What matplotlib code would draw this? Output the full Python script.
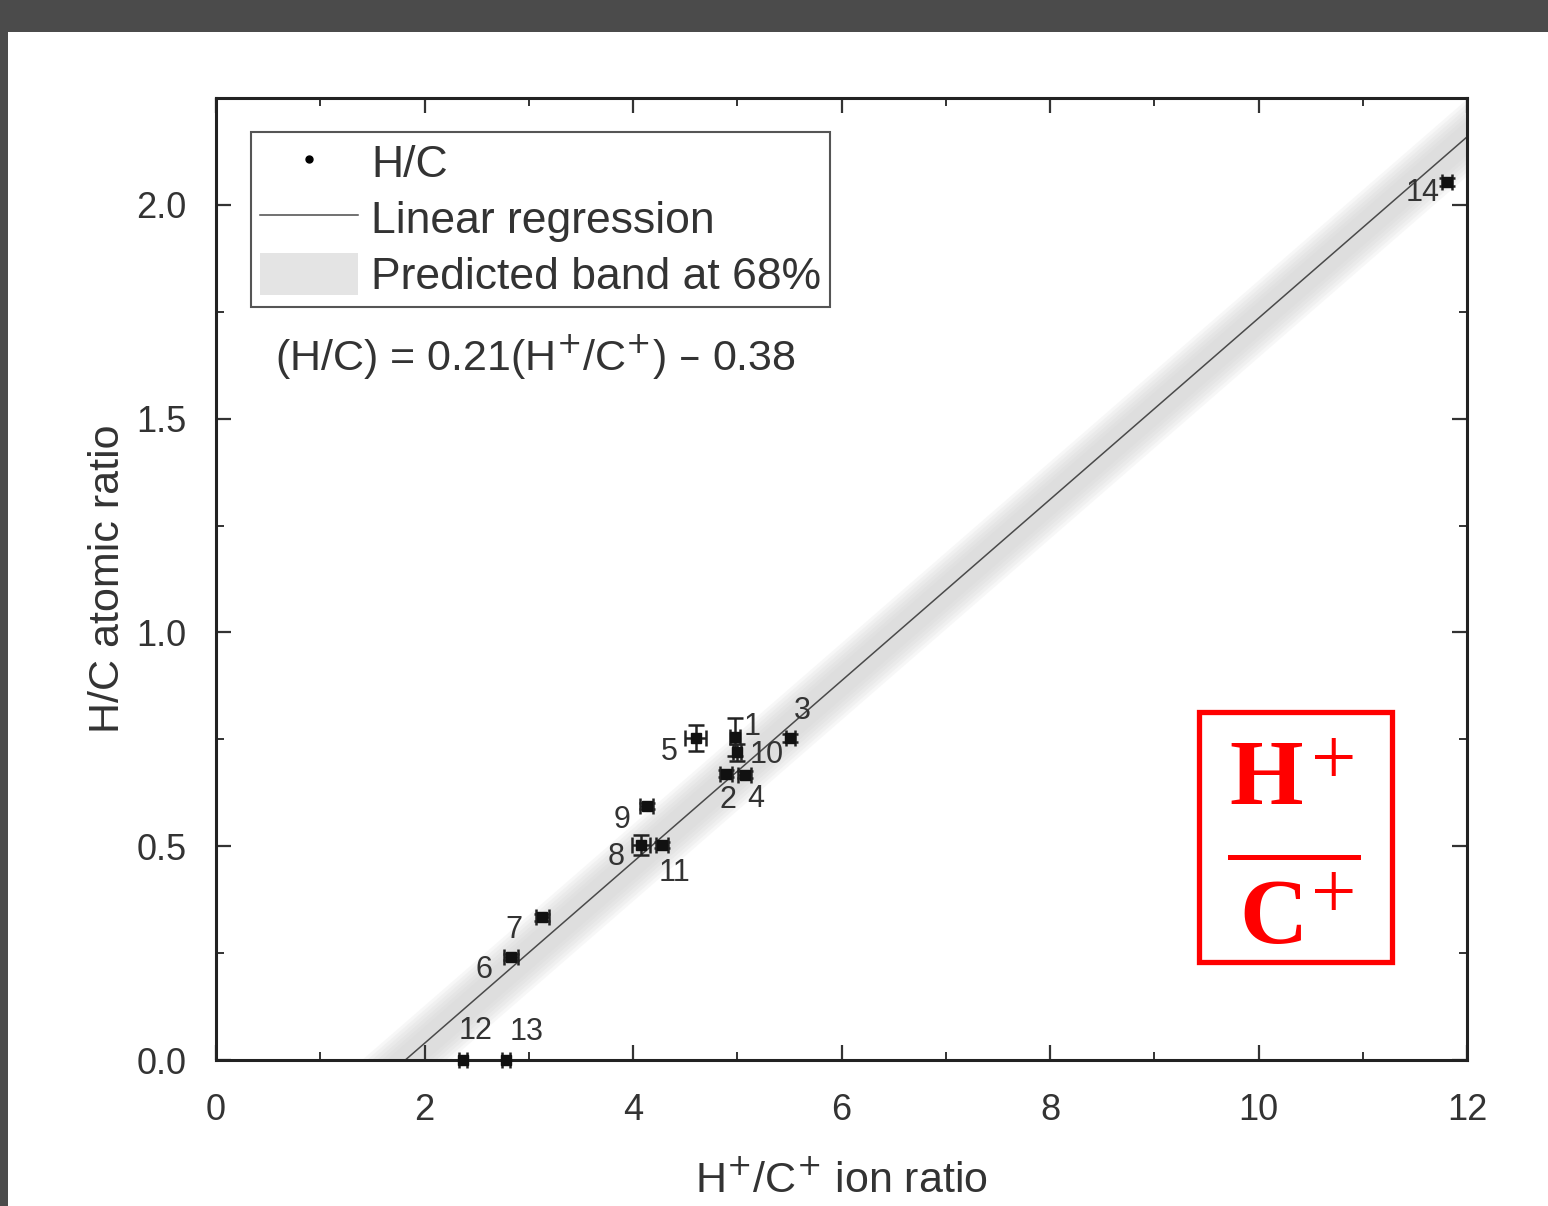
import numpy as np
import matplotlib
matplotlib.use("Agg")
import matplotlib.pyplot as plt
from matplotlib.patches import Rectangle, Patch
from matplotlib.lines import Line2D
from matplotlib.ticker import MultipleLocator

plt.rcParams['font.family'] = ['Liberation Sans', 'DejaVu Sans']

# H+/C+ ion ratio vs H/C atomic ratio
sample_ids = ['1', '2', '3', '4', '5', '6', '7', '8', '9', '10', '11', '12', '13', '14']
ion_ratio = [4.98, 4.89, 5.51, 5.07, 4.60, 2.83, 3.13, 4.08, 4.13, 5.00, 4.28, 2.37, 2.78, 11.81]
hc_ratio = [0.755, 0.670, 0.753, 0.667, 0.753, 0.241, 0.334, 0.503, 0.594, 0.720, 0.503, 0.0, 0.0, 2.054]
ion_err = [0.05, 0.06, 0.04, 0.06, 0.10, 0.07, 0.06, 0.085, 0.06, 0.04, 0.06, 0.04, 0.04, 0.05]
hc_err = [0.045, 0.008, 0.01, 0.008, 0.03, 0.008, 0.008, 0.023, 0.008, 0.02, 0.008, 0.0, 0.0, 0.01]

slope = 0.212
intercept = -0.385
band_half = 0.075

# label offsets (pixels) for the sample numbers
label_off = {'1': (17, 10), '10': (29, -3), '2': (2, -26), '4': (11, -24), '3': (12, 27),
             '5': (-26, -14), '9': (-24, -14), '8': (-25, -12), '11': (12, -28),
             '7': (-28, -13), '6': (-27, -13), '12': (12, 29), '13': (21, 28), '14': (-25, -11)}

fig = plt.figure(figsize=(15.48, 12.06), dpi=100)
fig.patch.set_facecolor('white')
# dark screenshot frame on top and left
fig.patches.append(Rectangle((0, 1 - 32 / 1206), 1, 32 / 1206, transform=fig.transFigure,
                             facecolor='#4b4b4b', edgecolor='none', zorder=0))
fig.patches.append(Rectangle((0, 0), 8 / 1548, 1, transform=fig.transFigure,
                             facecolor='#4b4b4b', edgecolor='none', zorder=0))

ax = fig.add_axes([216 / 1548, 146 / 1206, 1251 / 1548, 962 / 1206])

# prediction band, layered to look soft
xb = np.linspace(0, 12, 200)
yb = slope * xb + intercept
for k in range(6):
    w = band_half * (0.55 + 0.13 * k)
    ax.fill_between(xb, yb - w, yb + w, color='#d0d0d0', alpha=0.16, lw=0, zorder=1)

x0 = -intercept / slope
xl = np.linspace(x0, 12, 50)
ax.plot(xl, slope * xl + intercept, color='#4a4a4a', lw=1.1, zorder=2)

ax.errorbar(ion_ratio, hc_ratio, xerr=ion_err, yerr=hc_err, fmt='s', ms=6.5,
            color='#111111', ecolor='#222222', elinewidth=1.8, capsize=6, capthick=1.8,
            zorder=4, clip_on=False)

for sid, xv, yv in zip(sample_ids, ion_ratio, hc_ratio):
    dx, dy = label_off[sid]
    ax.annotate(sid, (xv, yv), xytext=(dx, dy), textcoords='offset pixels',
                ha='center', va='center', fontsize=22, color='#333333', zorder=5)

ax.set_xlim(0, 12)
ax.set_ylim(0, 2.25)
ax.xaxis.set_major_locator(MultipleLocator(2))
ax.xaxis.set_minor_locator(MultipleLocator(1))
ax.yaxis.set_major_locator(MultipleLocator(0.5))
ax.yaxis.set_minor_locator(MultipleLocator(0.25))
ax.set_yticks([0, 0.5, 1.0, 1.5, 2.0])
ax.set_yticklabels(['0.0', '0.5', '1.0', '1.5', '2.0'])
ax.tick_params(which='both', direction='in', top=True, right=True, colors='#333333')
ax.tick_params(which='major', length=11, width=1.6, labelsize=26, pad=21)
ax.tick_params(which='minor', length=6, width=1.4)
ax.tick_params(axis='x', which='major', pad=24)
for sp in ax.spines.values():
    sp.set_linewidth(2.2)
    sp.set_color('#222222')

ax.set_xlabel('H$^{+}$/C$^{+}$ ion ratio', fontsize=31, color='#333333', labelpad=24)
ax.set_ylabel('H/C atomic ratio', fontsize=31, color='#333333', labelpad=6)

handles = [Line2D([], [], marker='o', ls='none', color='black', ms=5),
           Line2D([], [], color='#4a4a4a', lw=1.1),
           Patch(facecolor='#e4e4e4', edgecolor='none')]
leg = ax.legend(handles, ['H/C', 'Linear regression', 'Predicted band at 68%'],
                loc='upper left', bbox_to_anchor=(0.028, 0.965), fontsize=32,
                frameon=True, fancybox=False, edgecolor='#555555', framealpha=1,
                handlelength=2.2, handleheight=1.1, handletextpad=0.3, borderpad=0.2,
                labelspacing=0.24, borderaxespad=0.0)
for t in leg.get_texts():
    t.set_color('#333333')
leg.get_frame().set_linewidth(1.5)

ax.text(0.047, 0.73, '(H/C) = 0.21(H$^{+}$/C$^{+}$) \u2013 0.38', transform=ax.transAxes,
        fontsize=31, color='#333333', ha='left', va='center')

# red H+/C+ box
fig.patches.append(Rectangle((1199 / 1548, 244 / 1206), 193 / 1548, 250 / 1206,
                             transform=fig.transFigure, facecolor='white', edgecolor='#ff0000',
                             lw=3.8, zorder=10))
red = '#ff0000'
fig.text(1266 / 1548, 1 - 782 / 1206, 'H', fontsize=68, fontweight='bold', color=red,
         family='Liberation Serif', ha='center', va='center', zorder=11)
fig.text(1334 / 1548, 1 - 764 / 1206, '+', fontsize=58, color=red,
         family='Liberation Serif', ha='center', va='center', zorder=11)
fig.add_artist(Line2D([1230 / 1548, 1358 / 1548], [1 - 857 / 1206, 1 - 857 / 1206],
                      transform=fig.transFigure, color=red, lw=3.6, zorder=11))
fig.text(1274 / 1548, 1 - 920 / 1206, 'C', fontsize=68, fontweight='bold', color=red,
         family='Liberation Serif', ha='center', va='center', zorder=11)
fig.text(1334 / 1548, 1 - 898 / 1206, '+', fontsize=58, color=red,
         family='Liberation Serif', ha='center', va='center', zorder=11)

fig.savefig('out.png', dpi=100)
